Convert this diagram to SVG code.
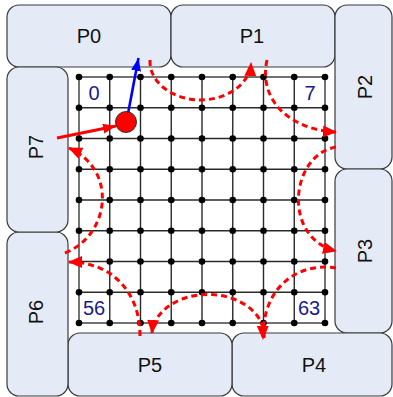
<svg xmlns="http://www.w3.org/2000/svg" width="393" height="397" viewBox="0 0 393 397">
<style>
.box{fill:#e4ebf6;stroke:#3a3a3a;stroke-width:1.2}
.lbl{font-family:"Liberation Sans",Arial,sans-serif;font-size:20px;fill:#111;text-anchor:middle}
.num{font-family:"Liberation Sans",Arial,sans-serif;font-size:20px;fill:#1a1a8a;text-anchor:middle}
.gl{stroke:#2a2a2a;stroke-width:1.4}
.dash{fill:none;stroke:#ff0000;stroke-width:3;stroke-dasharray:6 4;marker-end:url(#ah)}
</style>
<defs>
<marker id="ah" markerUnits="userSpaceOnUse" markerWidth="16" markerHeight="14" refX="13" refY="6" orient="auto">
<path d="M0,0 L14,6 L0,12 Z" fill="#ff0000"/>
</marker>
<marker id="ahb" markerUnits="userSpaceOnUse" markerWidth="16" markerHeight="14" refX="13" refY="5" orient="auto">
<path d="M0,0 L13,5 L0,10 Z" fill="#0000ff"/>
</marker>
<marker id="ahr" markerUnits="userSpaceOnUse" markerWidth="16" markerHeight="14" refX="13" refY="5" orient="auto">
<path d="M0,0 L13,5 L0,10 Z" fill="#ff0000"/>
</marker>
</defs>
<rect width="393" height="397" fill="#ffffff"/>

<g id="P0"><rect class="box" x="7" y="5" width="164" height="62" rx="12"/><text class="lbl" x="89" y="43">P0</text></g>
<g id="P1"><rect class="box" x="171" y="5" width="164" height="62" rx="12"/><text class="lbl" x="252" y="43">P1</text></g>
<g id="P2"><rect class="box" x="335" y="5" width="57" height="164" rx="12"/><text class="lbl" transform="translate(372,87) rotate(-90)">P2</text></g>
<g id="P3"><rect class="box" x="335" y="169" width="57" height="164" rx="12"/><text class="lbl" transform="translate(372,251) rotate(-90)">P3</text></g>
<g id="P4"><rect class="box" x="232" y="333" width="160" height="63" rx="12"/><text class="lbl" x="314" y="372">P4</text></g>
<g id="P5"><rect class="box" x="68" y="333" width="164" height="63" rx="12"/><text class="lbl" x="150" y="372">P5</text></g>
<g id="P6"><rect class="box" x="7" y="232" width="61" height="164" rx="12"/><text class="lbl" transform="translate(43,312) rotate(-90)">P6</text></g>
<g id="P7"><rect class="box" x="7" y="67" width="61" height="165" rx="12"/><text class="lbl" transform="translate(43,147) rotate(-90)">P7</text></g>

<g id="grid">
<path class="gl" d="M79,77V323M109.75,77V323M140.5,77V323M171.25,77V323M202,77V323M232.75,77V323M263.5,77V323M294.25,77V323M325,77V323"/>
<path class="gl" d="M79,77H325M79,107.75H325M79,138.5H325M79,169.25H325M79,200H325M79,230.75H325M79,261.5H325M79,292.25H325M79,323H325"/>
<rect x="79" y="77" width="246" height="246" fill="none" stroke="#777" stroke-width="1.6"/>
<g fill="#000">
<circle cx="79" cy="77" r="3.3"/><circle cx="109.75" cy="77" r="3.3"/><circle cx="140.5" cy="77" r="3.3"/><circle cx="171.25" cy="77" r="3.3"/><circle cx="202" cy="77" r="3.3"/><circle cx="232.75" cy="77" r="3.3"/><circle cx="263.5" cy="77" r="3.3"/><circle cx="294.25" cy="77" r="3.3"/><circle cx="325" cy="77" r="3.3"/>
<circle cx="79" cy="107.75" r="3.3"/><circle cx="109.75" cy="107.75" r="3.3"/><circle cx="140.5" cy="107.75" r="3.3"/><circle cx="171.25" cy="107.75" r="3.3"/><circle cx="202" cy="107.75" r="3.3"/><circle cx="232.75" cy="107.75" r="3.3"/><circle cx="263.5" cy="107.75" r="3.3"/><circle cx="294.25" cy="107.75" r="3.3"/><circle cx="325" cy="107.75" r="3.3"/>
<circle cx="79" cy="138.5" r="3.3"/><circle cx="109.75" cy="138.5" r="3.3"/><circle cx="140.5" cy="138.5" r="3.3"/><circle cx="171.25" cy="138.5" r="3.3"/><circle cx="202" cy="138.5" r="3.3"/><circle cx="232.75" cy="138.5" r="3.3"/><circle cx="263.5" cy="138.5" r="3.3"/><circle cx="294.25" cy="138.5" r="3.3"/><circle cx="325" cy="138.5" r="3.3"/>
<circle cx="79" cy="169.25" r="3.3"/><circle cx="109.75" cy="169.25" r="3.3"/><circle cx="140.5" cy="169.25" r="3.3"/><circle cx="171.25" cy="169.25" r="3.3"/><circle cx="202" cy="169.25" r="3.3"/><circle cx="232.75" cy="169.25" r="3.3"/><circle cx="263.5" cy="169.25" r="3.3"/><circle cx="294.25" cy="169.25" r="3.3"/><circle cx="325" cy="169.25" r="3.3"/>
<circle cx="79" cy="200" r="3.3"/><circle cx="109.75" cy="200" r="3.3"/><circle cx="140.5" cy="200" r="3.3"/><circle cx="171.25" cy="200" r="3.3"/><circle cx="202" cy="200" r="3.3"/><circle cx="232.75" cy="200" r="3.3"/><circle cx="263.5" cy="200" r="3.3"/><circle cx="294.25" cy="200" r="3.3"/><circle cx="325" cy="200" r="3.3"/>
<circle cx="79" cy="230.75" r="3.3"/><circle cx="109.75" cy="230.75" r="3.3"/><circle cx="140.5" cy="230.75" r="3.3"/><circle cx="171.25" cy="230.75" r="3.3"/><circle cx="202" cy="230.75" r="3.3"/><circle cx="232.75" cy="230.75" r="3.3"/><circle cx="263.5" cy="230.75" r="3.3"/><circle cx="294.25" cy="230.75" r="3.3"/><circle cx="325" cy="230.75" r="3.3"/>
<circle cx="79" cy="261.5" r="3.3"/><circle cx="109.75" cy="261.5" r="3.3"/><circle cx="140.5" cy="261.5" r="3.3"/><circle cx="171.25" cy="261.5" r="3.3"/><circle cx="202" cy="261.5" r="3.3"/><circle cx="232.75" cy="261.5" r="3.3"/><circle cx="263.5" cy="261.5" r="3.3"/><circle cx="294.25" cy="261.5" r="3.3"/><circle cx="325" cy="261.5" r="3.3"/>
<circle cx="79" cy="292.25" r="3.3"/><circle cx="109.75" cy="292.25" r="3.3"/><circle cx="140.5" cy="292.25" r="3.3"/><circle cx="171.25" cy="292.25" r="3.3"/><circle cx="202" cy="292.25" r="3.3"/><circle cx="232.75" cy="292.25" r="3.3"/><circle cx="263.5" cy="292.25" r="3.3"/><circle cx="294.25" cy="292.25" r="3.3"/><circle cx="325" cy="292.25" r="3.3"/>
<circle cx="79" cy="323" r="3.3"/><circle cx="109.75" cy="323" r="3.3"/><circle cx="140.5" cy="323" r="3.3"/><circle cx="171.25" cy="323" r="3.3"/><circle cx="202" cy="323" r="3.3"/><circle cx="232.75" cy="323" r="3.3"/><circle cx="263.5" cy="323" r="3.3"/><circle cx="294.25" cy="323" r="3.3"/><circle cx="325" cy="323" r="3.3"/>
</g>
<text class="num" x="94" y="99.5">0</text>
<text class="num" x="310" y="99.5">7</text>
<text class="num" x="94" y="315">56</text>
<text class="num" x="309" y="315">63</text>
</g>

<g id="connectors">
<path class="dash" d="M150,60 A50,38 0 0 0 251,63"/>
<path class="dash" d="M267,60 C258,100 290,130 336,132"/>
<path class="dash" d="M336,147 C290,155 282,238 336,251"/>
<path class="dash" d="M336,268 C300,262 262,285 263,339"/>
<path class="dash" d="M264,338 A56,41 0 0 0 152,333"/>
<path class="dash" d="M140,336 C140,290 110,262 69,262"/>
<path class="dash" d="M65,253 C110,235 118,170 69,148"/>
<line x1="57" y1="138" x2="116" y2="126" stroke="#ff0000" stroke-width="3" marker-end="url(#ahr)"/>
<line x1="127" y1="119" x2="138.5" y2="58" stroke="#0000ff" stroke-width="2.6" marker-end="url(#ahb)"/>
</g>
<g id="ball"><circle cx="126" cy="122" r="10.5" fill="#ff0000" stroke="#333" stroke-width="1"/></g>
</svg>
